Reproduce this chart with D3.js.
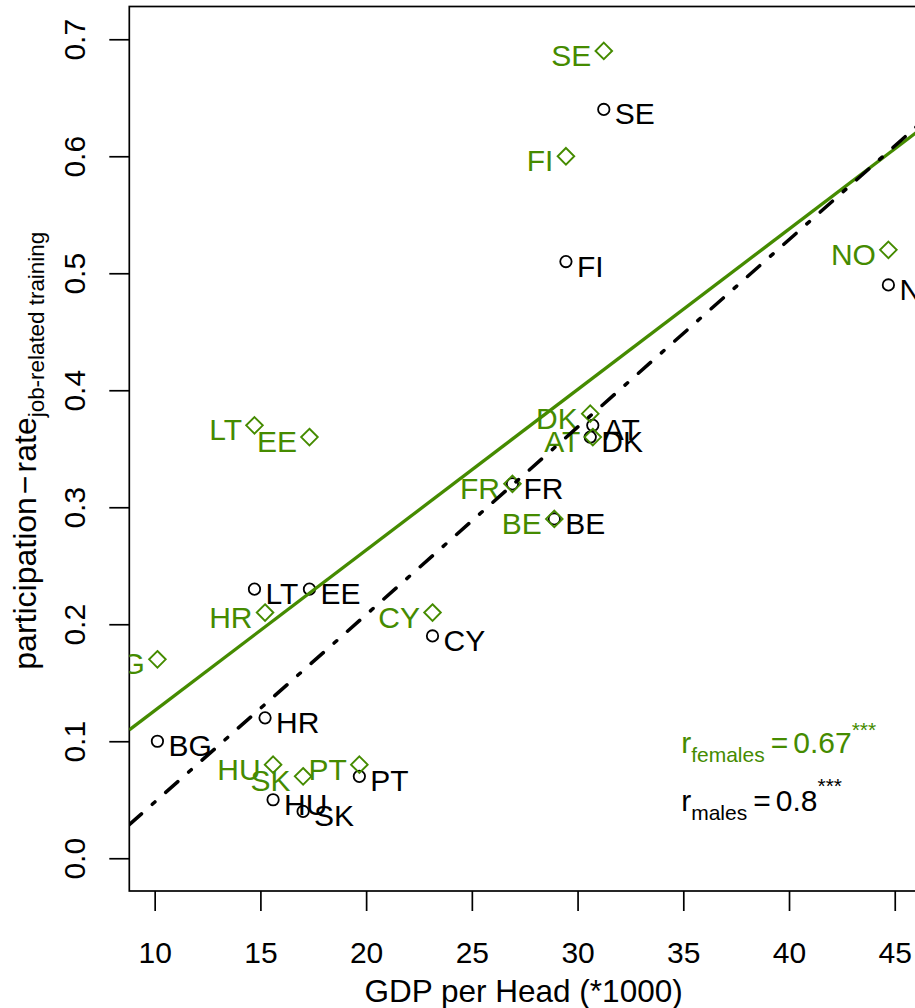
<!DOCTYPE html>
<html>
<head>
<meta charset="utf-8">
<script src="https://cdn.jsdelivr.net/npm/d3@7/dist/d3.min.js"></script>
<style>
  html, body { margin: 0; padding: 0; background: #fff; }
  svg { display: block; font-family: "Liberation Sans", Arial, Helvetica, sans-serif; }
</style>
</head>
<body>
<svg id="chart" width="915" height="1008"></svg>
<script>
// ---- data ----
const countries = ["BG", "HR", "LT", "EE", "HU", "SK", "PT", "CY", "FR", "BE", "FI", "DK", "AT", "SE", "NO"];
const gdpPerHead = [10.13, 15.22, 14.72, 17.32, 15.6, 17.02, 19.68, 23.14, 26.92, 28.9, 29.45, 30.6, 30.72, 31.24, 44.7];
const rateMales = [0.10, 0.12, 0.23, 0.23, 0.05, 0.04, 0.07, 0.19, 0.32, 0.29, 0.51, 0.36, 0.37, 0.64, 0.49];
const rateFemales = [0.17, 0.21, 0.37, 0.36, 0.08, 0.07, 0.08, 0.21, 0.32, 0.29, 0.60, 0.38, 0.36, 0.69, 0.52];
const xTicks = [10, 15, 20, 25, 30, 35, 40, 45];
const yTicks = [0.0, 0.1, 0.2, 0.3, 0.4, 0.5, 0.6, 0.7];
const xTitle = "GDP per Head (*1000)";

const GREEN = "#458B00";
const FONT = 30;

const svg = d3.select("#chart");
const x = d3.scaleLinear().domain([8.80, 46.10]).range([129.3, 918]);
const y = d3.scaleLinear().domain([-0.028, 0.728]).range([891, 6.5]);
const [x0, x1] = x.range();
const [yb, yt] = y.range();

// stats helpers
function fit(xs, ys) {
  const mx = d3.mean(xs), my = d3.mean(ys);
  let sxy = 0, sxx = 0, syy = 0;
  xs.forEach((v, i) => { const dx = v - mx, dy = ys[i] - my; sxy += dx * dy; sxx += dx * dx; syy += dy * dy; });
  const b = sxy / sxx;
  return { a: my - b * mx, b, r: sxy / Math.sqrt(sxx * syy) };
}
const fitM = fit(gdpPerHead, rateMales);
const fitF = fit(gdpPerHead, rateFemales);
const fmtR = v => String(+v.toFixed(2));

// clip
svg.append("clipPath").attr("id", "plotclip")
  .append("rect").attr("x", x0).attr("y", yt).attr("width", x1 - x0).attr("height", yb - yt);

// axes
const gx = svg.append("g").attr("transform", `translate(0,${yb})`)
  .call(d3.axisBottom(x).tickValues(xTicks).tickSize(20).tickPadding(31).tickFormat(d3.format("d")));
gx.select(".domain").remove();
gx.selectAll("line").attr("stroke", "#000").attr("stroke-width", 1.7);
gx.selectAll("text").attr("font-size", FONT).attr("fill", "#000").attr("font-family", null);

const gy = svg.append("g").attr("transform", `translate(${x0},0)`)
  .call(d3.axisLeft(y).tickValues(yTicks).tickSize(20).tickFormat(d3.format(".1f")));
gy.select(".domain").remove();
gy.selectAll("line").attr("stroke", "#000").attr("stroke-width", 1.7);
gy.selectAll("text")
  .attr("font-size", FONT).attr("fill", "#000").attr("font-family", null)
  .attr("x", null).attr("dy", null).attr("y", 0)
  .attr("text-anchor", "middle")
  .attr("transform", `translate(${85 - x0},0) rotate(-90)`);

// frame
svg.append("rect").attr("x", x0).attr("y", yt).attr("width", x1 - x0).attr("height", yb - yt)
  .attr("fill", "none").attr("stroke", "#000").attr("stroke-width", 1.7);

// axis titles
svg.append("text").attr("x", (x0 + x1) / 2).attr("y", 1002)
  .attr("text-anchor", "middle").attr("font-size", 31.5).text(xTitle);

const yl = svg.append("text").attr("transform", `translate(36,${(yt + yb) / 2 + 2}) rotate(-90)`)
  .attr("text-anchor", "middle").attr("font-size", 32);
yl.append("tspan").text("participation");
yl.append("tspan").attr("dx", 3).text("\u2212");
yl.append("tspan").attr("dx", 3).text("rate");
yl.append("tspan").attr("font-size", 22.4).attr("dy", 8).text("job-related training");

// males: circles + labels right
const gm = svg.append("g").attr("clip-path", "url(#plotclip)");
gm.selectAll("circle").data(countries).join("circle")
  .attr("cx", (d, i) => x(gdpPerHead[i])).attr("cy", (d, i) => y(rateMales[i]))
  .attr("r", 5.7).attr("fill", "none").attr("stroke", "#000").attr("stroke-width", 1.8);
gm.selectAll("text").data(countries).join("text")
  .attr("x", (d, i) => x(gdpPerHead[i]) + 11).attr("y", (d, i) => y(rateMales[i]))
  .attr("dy", "0.5em").attr("font-size", FONT).attr("fill", "#000").text(d => d);

// females: diamonds + labels left
const gf = svg.append("g").attr("clip-path", "url(#plotclip)");
const dd = 8.3;
gf.selectAll("path").data(countries).join("path")
  .attr("transform", (d, i) => `translate(${x(gdpPerHead[i])},${y(rateFemales[i])})`)
  .attr("d", `M0,${-dd}L${dd},0L0,${dd}L${-dd},0Z`)
  .attr("fill", "none").attr("stroke", GREEN).attr("stroke-width", 1.9);
gf.selectAll("text").data(countries).join("text")
  .attr("x", (d, i) => x(gdpPerHead[i]) - 12.5).attr("y", (d, i) => y(rateFemales[i]))
  .attr("dy", "0.5em").attr("text-anchor", "end").attr("font-size", FONT).attr("fill", GREEN).text(d => d);

// regression lines
const gl = svg.append("g").attr("clip-path", "url(#plotclip)");
const [d0, d1] = x.domain();
gl.append("line")
  .attr("x1", x(d0)).attr("y1", y(fitF.a + fitF.b * d0))
  .attr("x2", x(d1)).attr("y2", y(fitF.a + fitF.b * d1))
  .attr("stroke", GREEN).attr("stroke-width", 3.3);
gl.append("line")
  .attr("x1", x(d0)).attr("y1", y(fitM.a + fitM.b * d0))
  .attr("x2", x(d1)).attr("y2", y(fitM.a + fitM.b * d1))
  .attr("stroke", "#000").attr("stroke-width", 3.5)
  .attr("stroke-linecap", "round")
  .attr("stroke-dasharray", "16.3,14.4,3.5,14.4");

// correlation annotations
function corrLabel(sub, val, color, yv, subShift, supShift) {
  const t = svg.append("text").attr("x", x(34.9)).attr("y", y(yv))
    .attr("font-size", FONT).attr("fill", color);
  t.append("tspan").text("r");
  t.append("tspan").attr("font-size", 21).attr("dy", subShift).text(sub);
  t.append("tspan").attr("dy", -subShift).attr("dx", 6).text("=");
  t.append("tspan").attr("dx", 5).text(val);
  t.append("tspan").attr("font-size", 21).attr("dy", -supShift).text("***");
}
corrLabel("females", fmtR(fitF.r), GREEN, 0.09, 8.7, 16);
corrLabel("males", fmtR(fitM.r), "#000", 0.04, 8.3, 18);
</script>
</body>
</html>
